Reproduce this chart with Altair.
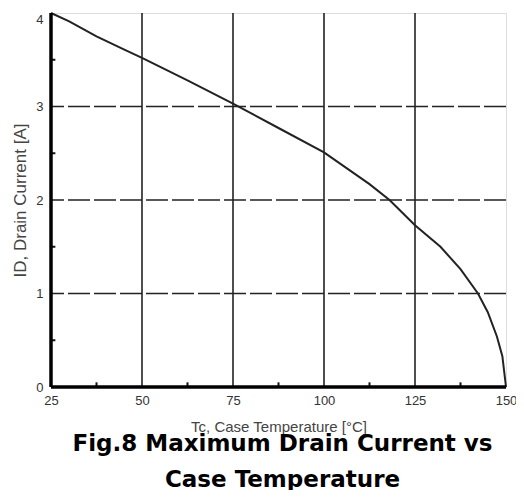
import altair as alt
import pandas as pd

# Curve
temp = [25, 30, 37.5, 45, 50, 62.5, 75, 87.5, 100, 112.5, 118, 125, 132, 137.5, 142.3, 145, 147.5, 149, 150]
current = [4.0, 3.91, 3.75, 3.61, 3.52, 3.28, 3.03, 2.77, 2.51, 2.17, 2.0, 1.73, 1.50, 1.26, 1.0, 0.80, 0.54, 0.33, 0.0]

x_ticks = [25, 50, 75, 100, 125, 150]
y_ticks = [0, 1, 2, 3, 4]
x_minor = [37.5, 62.5, 87.5, 112.5, 137.5]
y_minor = [0.5, 1.5, 2.5, 3.5]

curve = pd.DataFrame({"T": temp, "I": current})
vgrid = pd.DataFrame({"T": [50, 75, 100, 125]})
hgrid = pd.DataFrame({"I": [1, 2, 3]})
xm = pd.DataFrame({"T": x_minor, "y0": [0] * len(x_minor), "y1": [0.05] * len(x_minor)})
ym = pd.DataFrame({"I": y_minor, "x0": [25] * len(y_minor), "x1": [26.2] * len(y_minor)})

xs = alt.Scale(domain=[25, 150], nice=False, zero=False)
ys = alt.Scale(domain=[0, 4], nice=False)

LABEL_FONT = "Liberation Sans"

xaxis = alt.Axis(values=x_ticks, grid=False, ticks=False, domain=False, format="d",
                 labelFont=LABEL_FONT, labelFontSize=13, labelColor="#333",
                 labelPadding=7, title="Tc, Case Temperature [°C]",
                 titleFont=LABEL_FONT, titleFontSize=15, titleFontWeight="normal",
                 titleColor="#444", titlePadding=12, labelFlush=False)
yaxis = alt.Axis(values=y_ticks, grid=False, ticks=False, domain=False, format="d",
                 labelFont=LABEL_FONT, labelFontSize=13, labelColor="#333",
                 labelPadding=8,
                 labelBaseline={"condition": {"test": "datum.value == 4", "value": "top"}, "value": "middle"},
                 title="ID, Drain Current [A]",
                 titleFont=LABEL_FONT, titleFontSize=17, titleFontWeight="normal",
                 titleColor="#444", titlePadding=6, labelFlush=False)

base_line = alt.Chart(curve).mark_line(color="#222", strokeWidth=2).encode(
    x=alt.X("T:Q", scale=xs, axis=xaxis),
    y=alt.Y("I:Q", scale=ys, axis=yaxis),
)

vlines = alt.Chart(vgrid).mark_rule(color="#222", strokeWidth=1.6).encode(
    x=alt.X("T:Q", scale=xs)
)
hlines = alt.Chart(hgrid).mark_rule(color="#222", strokeWidth=1.6, strokeDash=[22, 4]).encode(
    y=alt.Y("I:Q", scale=ys)
)
xminor = alt.Chart(xm).mark_rule(color="#111", strokeWidth=2).encode(
    x=alt.X("T:Q", scale=xs), y=alt.Y("y0:Q", scale=ys), y2="y1:Q"
)
yminor = alt.Chart(ym).mark_rule(color="#111", strokeWidth=2).encode(
    y=alt.Y("I:Q", scale=ys), x=alt.X("x0:Q", scale=xs), x2="x1:Q"
)
# frame: thick left & bottom
left_edge = alt.Chart(pd.DataFrame({"T": [25]})).mark_rule(color="#000", strokeWidth=3.5).encode(
    x=alt.X("T:Q", scale=xs)
)
bottom_edge = alt.Chart(pd.DataFrame({"I": [0]})).mark_rule(color="#000", strokeWidth=3.5).encode(
    y=alt.Y("I:Q", scale=ys)
)

chart = alt.layer(vlines, hlines, xminor, yminor, base_line, left_edge, bottom_edge).properties(
    width=455, height=374,
    autosize=alt.AutoSizeParams(type="none"),
    padding={"left": 43, "top": 5, "right": 10, "bottom": 103},
    title=alt.TitleParams(
        text=["Fig.8 Maximum Drain Current vs", "Case Temperature"],
        orient="bottom", frame="group", anchor="middle",
        font="DejaVu Sans", fontSize=23, fontWeight=900, color="#000",
        lineHeight=36, offset=-1, dx=4,
    ),
).configure_view(stroke="#000", strokeWidth=2.5).configure(background="white")

chart.save("out.html", embed_options={"renderer": "svg", "actions": False})
